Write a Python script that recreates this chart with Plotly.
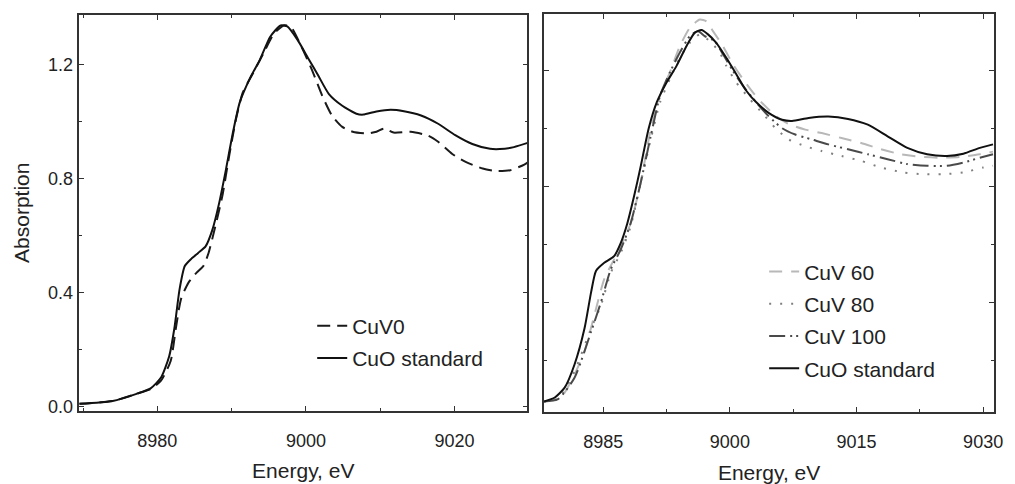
import plotly.graph_objects as go

# ---------------- Left panel data ----------------
E_left_cuo = [8969.5, 8974.0, 8977.2, 8979.1, 8980.5, 8981.6, 8982.3, 8983.0, 8983.7, 8984.6,
              8985.5, 8986.5, 8987.4, 8988.3, 8989.2, 8990.2, 8991.1, 8992.5, 8993.8, 8995.2,
              8996.6, 8997.5, 8998.9, 9000.3, 9001.7, 9003.1, 9004.9, 9006.8, 9007.7, 9009.5,
              9011.4, 9013.2, 9015.5, 9017.8, 9020.1, 9022.4, 9024.8, 9026.1, 9028.0, 9030.0]
A_left_cuo = [0.011, 0.021, 0.046, 0.065, 0.103, 0.178, 0.276, 0.413, 0.494, 0.520,
              0.540, 0.563, 0.620, 0.712, 0.827, 0.965, 1.068, 1.154, 1.217, 1.298,
              1.338, 1.334, 1.286, 1.223, 1.160, 1.097, 1.056, 1.028, 1.025, 1.036,
              1.042, 1.037, 1.022, 0.993, 0.953, 0.922, 0.905, 0.904, 0.911, 0.927]

E_left_cuv0 = [8969.5, 8974.0, 8977.2, 8979.1, 8980.5, 8981.8, 8982.5, 8983.2, 8984.2, 8985.3,
               8986.2, 8986.9, 8987.8, 8988.8, 8989.7, 8990.6, 8991.5, 8992.9, 8994.3, 8995.7,
               8997.1, 8998.0, 8999.4, 9000.8, 9002.2, 9003.5, 9004.9, 9006.3, 9008.2, 9009.5,
               9010.5, 9011.8, 9014.1, 9016.5, 9017.8, 9019.7, 9021.5, 9023.8, 9025.7, 9027.5,
               9029.4, 9030.0]
A_left_cuv0 = [0.011, 0.021, 0.046, 0.063, 0.092, 0.161, 0.276, 0.379, 0.436, 0.471,
               0.494, 0.540, 0.632, 0.746, 0.884, 1.010, 1.102, 1.171, 1.240, 1.309,
               1.338, 1.332, 1.263, 1.183, 1.091, 1.022, 0.982, 0.965, 0.959, 0.965,
               0.976, 0.962, 0.965, 0.951, 0.930, 0.887, 0.859, 0.836, 0.827, 0.830,
               0.850, 0.860]

# ---------------- Right panel data ----------------
E_right_cuo = [8977.97, 8979.26, 8980.43, 8981.60, 8982.78, 8983.56, 8984.14, 8985.12, 8986.29, 8987.07,
               8987.85, 8988.63, 8989.41, 8990.39, 8991.36, 8992.53, 8993.70, 8994.87, 8995.85, 8996.63,
               8997.41, 8998.39, 8999.56, 9000.73, 9001.90, 9003.07, 9004.63, 9006.19, 9007.36, 9009.32,
               9011.66, 9014.00, 9016.34, 9018.68, 9021.02, 9023.37, 9025.71, 9027.66, 9029.61, 9031.17]
A_right_cuo = [0.058, 0.072, 0.106, 0.186, 0.310, 0.435, 0.509, 0.537, 0.560, 0.605,
               0.673, 0.764, 0.866, 1.002, 1.093, 1.161, 1.218, 1.286, 1.332, 1.341,
               1.326, 1.297, 1.246, 1.190, 1.133, 1.093, 1.054, 1.031, 1.027, 1.037,
               1.042, 1.034, 1.014, 0.974, 0.934, 0.912, 0.906, 0.914, 0.934, 0.946]

E_cuv60 = [8977.97, 8979.65, 8980.43, 8981.60, 8982.78, 8983.95, 8985.12, 8986.29, 8987.07, 8988.24,
           8989.41, 8990.58, 8991.75, 8992.92, 8994.09, 8995.26, 8996.44, 8997.22, 8998.00, 8999.17,
           9000.34, 9001.51, 9002.68, 9003.85, 9005.41, 9006.97, 9008.93, 9010.88, 9013.22, 9015.56,
           9017.90, 9020.24, 9022.59, 9024.93, 9027.27, 9029.61, 9031.17]
A_cuv60 = [0.058, 0.070, 0.089, 0.151, 0.231, 0.356, 0.481, 0.549, 0.594, 0.673,
           0.810, 0.991, 1.116, 1.196, 1.286, 1.349, 1.377, 1.371, 1.337, 1.286,
           1.224, 1.173, 1.127, 1.088, 1.045, 1.016, 0.997, 0.985, 0.968, 0.951,
           0.929, 0.912, 0.903, 0.900, 0.903, 0.912, 0.921]

E_cuv80 = [8977.97, 8979.65, 8981.60, 8983.56, 8984.73, 8985.90, 8987.07, 8988.24, 8989.41, 8990.58,
           8991.75, 8992.92, 8994.09, 8995.26, 8996.44, 8997.61, 8998.78, 8999.56, 9000.73, 9002.29,
           9003.85, 9005.41, 9006.97, 9008.93, 9010.88, 9013.22, 9015.56, 9017.90, 9020.63, 9022.98,
           9025.32, 9027.66, 9030.00, 9031.17]
A_cuv80 = [0.058, 0.066, 0.163, 0.310, 0.390, 0.503, 0.571, 0.662, 0.810, 0.957,
           1.093, 1.173, 1.246, 1.297, 1.326, 1.303, 1.264, 1.218, 1.161, 1.105,
           1.054, 1.002, 0.963, 0.940, 0.923, 0.906, 0.889, 0.866, 0.849, 0.843,
           0.843, 0.849, 0.866, 0.872]

E_cuv100 = [8977.97, 8979.65, 8981.60, 8983.56, 8984.73, 8985.90, 8987.07, 8988.24, 8989.41, 8990.58,
            8991.75, 8992.92, 8994.09, 8995.26, 8996.24, 8997.02, 8998.19, 8999.17, 9000.34, 9001.51,
            9003.07, 9004.63, 9006.19, 9007.75, 9009.71, 9011.66, 9014.00, 9016.34, 9018.68, 9021.02,
            9023.37, 9025.71, 9027.66, 9029.61, 9031.17]
A_cuv100 = [0.058, 0.066, 0.140, 0.299, 0.401, 0.515, 0.583, 0.673, 0.810, 0.968,
            1.116, 1.196, 1.264, 1.320, 1.337, 1.320, 1.303, 1.258, 1.201, 1.150,
            1.093, 1.042, 1.002, 0.980, 0.963, 0.946, 0.929, 0.912, 0.895, 0.878,
            0.872, 0.872, 0.883, 0.900, 0.912]

# tick settings
left_x_ticks = [8980, 9000, 9020]
right_x_ticks = [8985, 9000, 9015, 9030]
y_ticks = [0.0, 0.4, 0.8, 1.2]

FONT = "Liberation Sans, Arial, sans-serif"
TXT = "#222222"
AX = "#333333"

fig = go.Figure()

def add(x, y, name, color, dash, xa, ya, legend, width=2):
    fig.add_trace(go.Scatter(
        x=x, y=y, name=name, mode="lines",
        line=dict(color=color, dash=dash, width=width, shape="spline", smoothing=0.6),
        xaxis=xa, yaxis=ya, legend=legend, legendgroup=name + legend,
    ))

add(E_left_cuv0, A_left_cuv0, "CuV0", "#1a1a1a", "13px,7px", "x", "y", "legend")
add(E_left_cuo, A_left_cuo, "CuO standard", "#111111", "solid", "x", "y", "legend")

add(E_cuv60, A_cuv60, "CuV 60", "#b8b8b8", "13px,9px", "x2", "y2", "legend2")
add(E_cuv80, A_cuv80, "CuV 80", "#808080", "2px,9px", "x2", "y2", "legend2")
add(E_cuv100, A_cuv100, "CuV 100", "#4a4a4a", "16px,5px,2px,4px,2px,5px", "x2", "y2", "legend2")
add(E_right_cuo, A_right_cuo, "CuO standard", "#111111", "solid", "x2", "y2", "legend2")

axis_common = dict(
    showline=True, linecolor=AX, linewidth=1.5, mirror="allticks",
    ticks="inside", ticklen=5, tickwidth=1.2, tickcolor=AX,
    showgrid=False, zeroline=False,
    tickfont=dict(family=FONT, size=18, color=TXT),
)

H = 484.0
W = 1015.0
TITLE_FONT = dict(family=FONT, size=21, color=TXT)
LEG_FONT = dict(family=FONT, size=21, color=TXT)

fig.update_layout(
    width=1015, height=484,
    margin=dict(l=0, r=0, t=0, b=0),
    paper_bgcolor="white", plot_bgcolor="white",
    font=dict(family=FONT, color=TXT),
    xaxis=dict(
        domain=[80 / W, 532 / W], range=[8969.5, 9029.8], anchor="y",
        tickvals=left_x_ticks, ticklabelstandoff=13,
        minor=dict(ticks="inside", ticklen=3, dtick=10, tick0=8970, tickcolor=AX),
        title=dict(text="Energy, eV", font=TITLE_FONT, standoff=13),
        **axis_common,
    ),
    yaxis=dict(
        domain=[1 - 416.7 / H, 1 - 15 / H], range=[-0.013, 1.375], anchor="x",
        tickvals=y_ticks, tickformat=".1f", ticklabelstandoff=1,
        minor=dict(ticks="inside", ticklen=3, dtick=0.2, tick0=0, tickcolor=AX),
        title=dict(text="Absorption", font=TITLE_FONT, standoff=13),
        **axis_common,
    ),
    xaxis2=dict(
        domain=[549 / W, 1003 / W], range=[8978.0, 9031.3], anchor="y2",
        tickvals=right_x_ticks, ticklabelstandoff=13,
        minor=dict(ticks="inside", ticklen=3, dtick=7.5, tick0=8985, tickcolor=AX),
        title=dict(text="Energy, eV", font=TITLE_FONT, standoff=15),
        **axis_common,
    ),
    yaxis2=dict(
        domain=[1 - 418 / H, 1 - 14 / H], range=[0.022, 1.397], anchor="x2",
        tickvals=y_ticks, showticklabels=False,
        minor=dict(ticks="inside", ticklen=3, dtick=0.2, tick0=0, tickcolor=AX),
        **axis_common,
    ),
    legend=dict(
        x=315 / W, y=1 - 310 / H, xanchor="left", yanchor="top",
        bgcolor="rgba(0,0,0,0)", font=LEG_FONT,
        traceorder="grouped", tracegroupgap=2,
    ),
    legend2=dict(
        x=771 / W, y=1 - 255 / H, xanchor="left", yanchor="top",
        bgcolor="rgba(0,0,0,0)", font=LEG_FONT,
        traceorder="grouped", tracegroupgap=2,
    ),
)

fig.write_html("out.html", config={"displayModeBar": False},
               post_script="document.body.style.margin='0px';")
